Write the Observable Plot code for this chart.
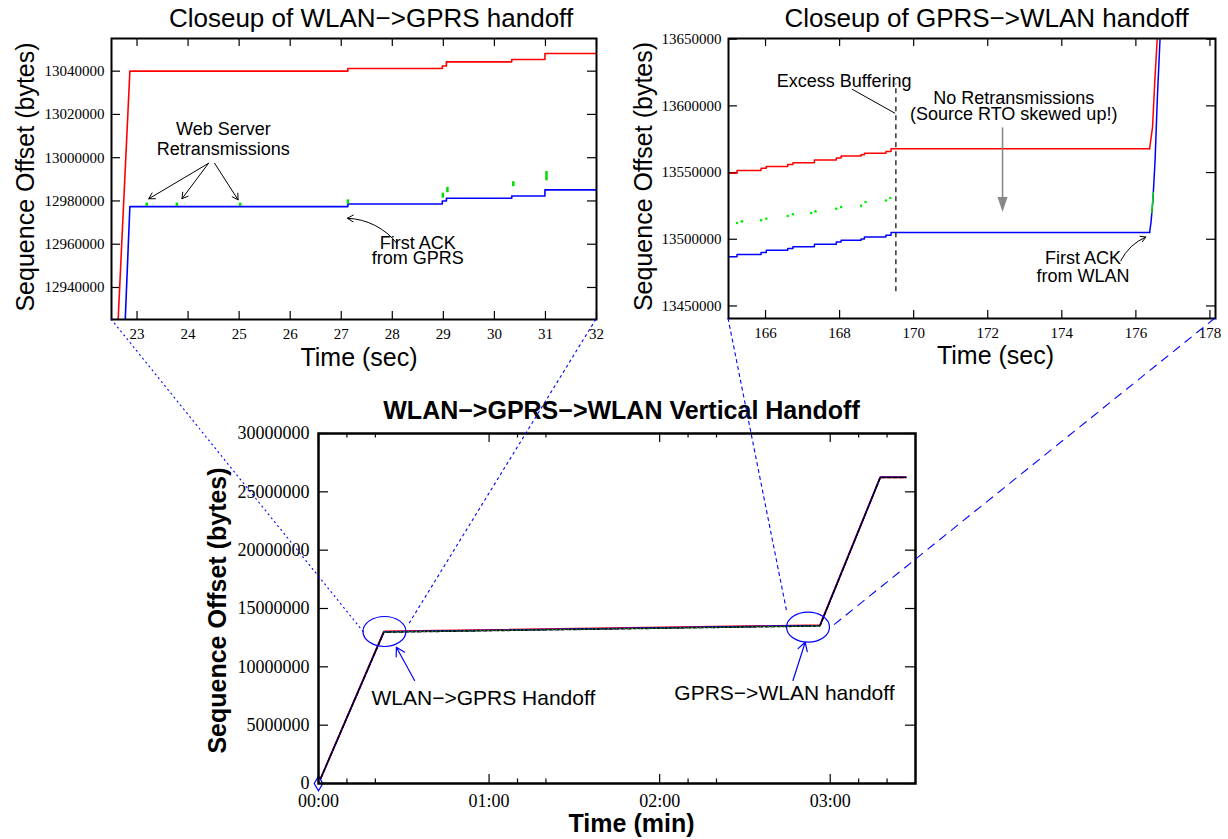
<!DOCTYPE html>
<html><head><meta charset="utf-8">
<script src="https://cdn.jsdelivr.net/npm/d3@7"></script>
<script src="https://cdn.jsdelivr.net/npm/@observablehq/plot@0.6"></script>
<style>
html,body{margin:0;padding:0;background:#fff}
#fig{position:relative;width:1228px;height:839px;overflow:hidden;background:#fff}
#fig > svg{position:absolute}
</style></head>
<body><div id="fig"></div>
<script>
// ================= DATA =================
// --- Closeup of WLAN->GPRS handoff (time in sec, sequence offset in bytes)
const c1XDomain = [22.5, 32];
const c1YDomain = [12925200, 13055100];
const c1XTicks = [23, 24, 25, 26, 27, 28, 29, 30, 31, 32];
const c1YTicks = [12940000, 12960000, 12980000, 13000000, 13020000, 13040000];
const c1RedT   = [22.62, 22.86, 27.13, 27.13, 28.98, 28.98, 29.06, 29.06, 30.34, 30.34, 30.99, 30.99, 32];
const c1RedSeq = [12920000, 13040000, 13040000, 13041200, 13041200, 13042400, 13042400, 13044300, 13044300, 13045400, 13045400, 13048200, 13048200];
const c1BlueT   = [22.76, 22.86, 27.13, 27.13, 28.98, 28.98, 29.06, 29.06, 30.34, 30.34, 30.99, 30.99, 32];
const c1BlueSeq = [12920000, 12977400, 12977400, 12978600, 12978600, 12980000, 12980000, 12981250, 12981250, 12982300, 12982300, 12985100, 12985100];
const c1RetxT  = [23.19, 23.78, 25.02, 27.13, 28.99, 29.08, 30.37, 31.02];
const c1RetxLo = [12977400, 12977400, 12977400, 12978500, 12981300, 12983800, 12986600, 12989300];
const c1RetxHi = [12979000, 12979000, 12979000, 12980500, 12983600, 12986300, 12988900, 12993600];
const c1Notes = ["Web Server\nRetransmissions", "First ACK\nfrom GPRS"];
const c1NoteT = [24.69, 28.5];
const c1NoteSeq = [13008800, 12956500];
const c1ArrowT1 = [24.40, 24.40, 24.52, 28.09];
const c1ArrowS1 = [12997400, 12997400, 12997400, 12960400];
const c1ArrowT2 = [23.23, 23.88, 24.98, 27.12];
const c1ArrowS2 = [12981000, 12981000, 12980500, 12972000];

// --- Closeup of GPRS->WLAN handoff
const c2XDomain = [165, 178.15];
const c2YDomain = [13440600, 13650500];
const c2XTicks = [166, 168, 170, 172, 174, 176, 178];
const c2YTicks = [13450000, 13500000, 13550000, 13600000, 13650000];
const c2StepT   = [165, 165.23, 165.88, 166.02, 166.60, 166.74, 167.32, 167.91, 168.04, 168.58, 168.67, 169.25, 169.39, 176.37];
const c2RedStep = [13549500, 13551500, 13553300, 13554600, 13556000, 13557300, 13559500, 13561000, 13562500, 13563300, 13564500, 13565800, 13567800, 13567800];
const c2BlueStep = [13486800, 13488500, 13490000, 13491800, 13493000, 13494300, 13496300, 13498000, 13499300, 13500200, 13501700, 13503000, 13505000, 13505000];
const c2RedRiseT = [176.37, 176.45, 176.51, 176.58];
const c2RedRise  = [13567800, 13584000, 13618000, 13652000];
const c2BlueRiseT = [176.37, 176.41, 176.46, 176.52, 176.58, 176.66];
const c2BlueRise  = [13505000, 13513000, 13529000, 13560000, 13606000, 13655000];
const c2GreenRiseT = [176.43, 176.47];
const c2GreenRise  = [13520000, 13535000];
const c2DotT   = [165.23, 165.36, 165.88, 166.02, 166.60, 166.74, 167.23, 167.35, 167.91, 168.04, 168.58, 168.70, 169.25, 169.37];
const c2DotSeq = [13512200, 13513400, 13514200, 13515400, 13517400, 13518700, 13519700, 13520900, 13522900, 13524100, 13525000, 13527900, 13529100, 13530900];
const c2BufferT = [169.52];
const c2BufferLo = [13460600];
const c2BufferHi = [13616400];
const c2Notes = ["Excess Buffering", "No Retransmissions\n(Source RTO skewed up!)", "First ACK\nfrom WLAN"];
const c2NoteT = [168.12, 172.70, 174.57];
const c2NoteSeq = [13618800, 13599400, 13478900];
const c2LeaderT1 = [168.33], c2LeaderS1 = [13612600], c2LeaderT2 = [169.50], c2LeaderS2 = [13594400];
const c2GrayT = [172.40], c2GrayTop = [13583500], c2GrayBottom = [13529000], c2GrayHead = [13526000];
const c2AckT1 = [175.59], c2AckS1 = [13483800], c2AckT2 = [176.27], c2AckS2 = [13501700];

// --- Main: WLAN->GPRS->WLAN Vertical Handoff (time in sec, shown as mm:ss)
const mXDomain = [0, 210];
const mYDomain = [0, 30000000];
const mXMajor = [0, 60, 120, 180];
const mXMinor = [10, 20, 70, 80, 130, 140, 190, 200];
const mYTicks = [0, 5000000, 10000000, 15000000, 20000000, 25000000, 30000000];
const mT = [0, 23, 176.4, 197.6, 206.6];
const mRed   = [0, 13040000, 13568000, 26250000, 26250000];
const mBlue  = [0, 13000000, 13540000, 26240000, 26240000];
const mBlack = [0, 12970000, 13505000, 26220000, 26220000];
const mGreenT = [23, 176.4];
const mGreen  = [12985000, 13515000];
const mOriginT = [0], mOriginSeq = [0];
const mCircleT = [23.2, 172.2];
const mCircleSeq = [13030000, 13400000];
const mArrowT1 = [33.8, 166.9], mArrowS1 = [8830000, 8830000];
const mArrowT2 = [27.4, 171.2], mArrowS2 = [11680000, 12110000];
const mNotes = ["WLAN\u2212>GPRS Handoff", "GPRS\u2212>WLAN handoff"];
const mNoteT = [58.0, 163.9], mNoteSeq = [7290000, 7710000];
// connectors: closeup frame bottom corners -> points by the circles
const connFrom = ["c1", "c1", "c2", "c2"];
const connFromEnd = [0, 1, 0, 1];
const connToT = [16.0, 31.66, 164.97, 180.1];
const connToSeq = [12940000, 13540000, 14570000, 13290000];

// ================= RENDER =================
const W = 1228, H = 839;
const fig = document.getElementById("fig");
const SANS = "Liberation Sans, Arial, Helvetica, sans-serif";
const SERIF = "Liberation Serif, Times New Roman, serif";

const L1 = {left: 0, top: 0, width: 610, height: 380, mL: 111, mR: 14, mT: 38, mB: 61};
const L2 = {left: 610, top: 0, width: 618, height: 380, mL: 118, mR: 13, mT: 38, mB: 62};
const L3 = {left: 190, top: 390, width: 760, height: 449, mL: 128, mR: 35, mT: 43, mB: 56};

function inward(xT, yT, xLen, yLen, L, sw = 1.2) {
  const fw = L.width - L.mL - L.mR, fh = L.height - L.mT - L.mB;
  const out = [];
  if (xT) out.push(
    Plot.tickX(xT, {x: d => d, insetTop: fh - xLen, stroke: "black", strokeWidth: sw}),
    Plot.tickX(xT, {x: d => d, insetBottom: fh - xLen, stroke: "black", strokeWidth: sw}));
  if (yT) out.push(
    Plot.tickY(yT, {y: d => d, insetRight: fw - yLen, stroke: "black", strokeWidth: sw}),
    Plot.tickY(yT, {y: d => d, insetLeft: fw - yLen, stroke: "black", strokeWidth: sw}));
  return out;
}
function base(L) {
  return {width: L.width, height: L.height, marginLeft: L.mL, marginRight: L.mR, marginTop: L.mT, marginBottom: L.mB,
    style: {fontFamily: SERIF, fontSize: "15px", background: "transparent", overflow: "visible", color: "black"}};
}
function label(str, opts) {
  return Plot.text([str], {text: d => d, textAnchor: "middle", lineAnchor: "middle", fontFamily: SANS, fontSize: 25, ...opts});
}
// one text mark per note so each note keeps its own line spacing
function notes(texts, xs, ys, size, spacings, color = "black") {
  return texts.map((t, i) => Plot.text([t], {x: [xs[i]], y: [ys[i]], text: d => d, fontFamily: SANS, fontSize: size,
    lineHeight: spacings[i], fill: color}));
}
const ellipse = {draw(ctx, size) {
  const r = Math.sqrt(size / Math.PI), rx = r * 1.43, ry = r, k = 0.5523;
  ctx.moveTo(rx, 0);
  ctx.bezierCurveTo(rx, ry * k, rx * k, ry, 0, ry);
  ctx.bezierCurveTo(-rx * k, ry, -rx, ry * k, -rx, 0);
  ctx.bezierCurveTo(-rx, -ry * k, -rx * k, -ry, 0, -ry);
  ctx.bezierCurveTo(rx * k, -ry, rx, -ry * k, rx, 0);
  ctx.closePath();
}};
const downHead = {draw(ctx, size) {
  const r = Math.sqrt(size / Math.PI);
  ctx.moveTo(0, r); ctx.lineTo(-0.67 * r, -r); ctx.lineTo(0.67 * r, -r); ctx.closePath();
}};
const idx = a => a.map((_, i) => i);

// ---- Plot 1
const p1 = Plot.plot({...base(L1),
  x: {domain: c1XDomain}, y: {domain: c1YDomain},
  marks: [
    ...inward(c1XTicks, c1YTicks, 8, 9, L1),
    Plot.axisX(c1XTicks, {anchor: "bottom", tickSize: 0, tickPadding: 9, tickFormat: d => String(d), label: null, fontSize: 15}),
    Plot.axisY(c1YTicks, {anchor: "left", tickSize: 0, tickPadding: 7, tickFormat: d => String(d), label: null, fontSize: 15}),
    Plot.line(c1RedSeq, {x: c1RedT, y: c1RedSeq, stroke: "#ff0000", strokeWidth: 1.6, clip: true}),
    Plot.line(c1BlueSeq, {x: c1BlueT, y: c1BlueSeq, stroke: "#0000ff", strokeWidth: 1.6, clip: true}),
    Plot.ruleX(c1RetxT, {x: c1RetxT, y1: c1RetxLo, y2: c1RetxHi, stroke: "#00dd00", strokeWidth: 2.5}),
    Plot.arrow(idx(c1ArrowT1).slice(0, 3), {x1: i => c1ArrowT1[i], y1: i => c1ArrowS1[i], x2: i => c1ArrowT2[i], y2: i => c1ArrowS2[i], stroke: "black", strokeWidth: 1, headLength: 10}),
    Plot.arrow([3], {x1: i => c1ArrowT1[i], y1: i => c1ArrowS1[i], x2: i => c1ArrowT2[i], y2: i => c1ArrowS2[i], bend: -25, stroke: "black", strokeWidth: 1, headLength: 10}),
    ...notes(c1Notes, c1NoteT, c1NoteSeq, 18, [1.12, 0.86]),
    Plot.frame({stroke: "black", strokeWidth: 2}),
    label("Closeup of WLAN\u2212>GPRS handoff", {frameAnchor: "top", dx: 17, dy: -20, fontSize: 26}),
    label("Time (sec)", {frameAnchor: "bottom", dx: 5, dy: 38}),
    label("Sequence Offset (bytes)", {frameAnchor: "left", dx: -86, dy: -2, rotate: -90})
  ]
});

// ---- Plot 2
const p2 = Plot.plot({...base(L2),
  x: {domain: c2XDomain}, y: {domain: c2YDomain},
  marks: [
    ...inward(c2XTicks, c2YTicks, 8, 9, L2),
    Plot.axisX(c2XTicks, {anchor: "bottom", tickSize: 0, tickPadding: 9, tickFormat: d => String(d), label: null, fontSize: 15}),
    Plot.axisY(c2YTicks, {anchor: "left", tickSize: 0, tickPadding: 7, tickFormat: d => String(d), label: null, fontSize: 15}),
    Plot.line(c2RedStep, {x: c2StepT, y: c2RedStep, curve: "step-after", stroke: "#ff0000", strokeWidth: 1.5}),
    Plot.line(c2RedRise, {x: c2RedRiseT, y: c2RedRise, stroke: "#ff0000", strokeWidth: 1.5, clip: true}),
    Plot.line(c2BlueStep, {x: c2StepT, y: c2BlueStep, curve: "step-after", stroke: "#0000ff", strokeWidth: 1.5}),
    Plot.line(c2BlueRise, {x: c2BlueRiseT, y: c2BlueRise, stroke: "#0000ff", strokeWidth: 1.5, clip: true}),
    Plot.line(c2GreenRise, {x: c2GreenRiseT, y: c2GreenRise, stroke: "#00dd00", strokeWidth: 1.5}),
    Plot.dot(c2DotSeq, {x: c2DotT, y: c2DotSeq, r: 1.3, fill: "#00ee00", stroke: "none"}),
    Plot.ruleX(c2BufferT, {x: c2BufferT, y1: c2BufferLo, y2: c2BufferHi, stroke: "black", strokeWidth: 1.2, strokeDasharray: "5,4"}),
    Plot.link(c2LeaderT1, {x1: c2LeaderT1, y1: c2LeaderS1, x2: c2LeaderT2, y2: c2LeaderS2, stroke: "black", strokeWidth: 1}),
    Plot.ruleX(c2GrayT, {x: c2GrayT, y1: c2GrayTop, y2: c2GrayBottom, stroke: "#888888", strokeWidth: 1.6}),
    Plot.dot(c2GrayT, {x: c2GrayT, y: c2GrayHead, symbol: downHead, r: 7.5, fill: "#888888", stroke: "none"}),
    Plot.arrow(c2AckT1, {x1: c2AckT1, y1: c2AckS1, x2: c2AckT2, y2: c2AckS2, bend: 20, stroke: "black", strokeWidth: 1, headLength: 9}),
    ...notes(c2Notes, c2NoteT, c2NoteSeq, 18, [1, 0.88, 1.02]),
    Plot.frame({stroke: "black", strokeWidth: 2}),
    label("Closeup of GPRS\u2212>WLAN handoff", {frameAnchor: "top", dx: 14.5, dy: -20, fontSize: 26}),
    label("Time (sec)", {frameAnchor: "bottom", dx: 23.5, dy: 37}),
    label("Sequence Offset (bytes)", {frameAnchor: "left", dx: -85, dy: -2, rotate: -90})
  ]
});

// ---- Plot 3
const p3 = Plot.plot({...base(L3),
  x: {domain: mXDomain}, y: {domain: mYDomain},
  marks: [
    ...inward(mXMajor, mYTicks, 9, 10, L3),
    ...inward(mXMinor, null, 4.5, 0, L3),
    Plot.axisX(mXMajor, {anchor: "bottom", tickSize: 0, tickPadding: 10.5, tickFormat: d => "0" + (d / 60) + ":00", label: null, fontSize: 18}),
    Plot.axisY(mYTicks, {anchor: "left", tickSize: 0, tickPadding: 9, tickFormat: d => String(d), label: null, fontSize: 18}),
    Plot.line(mRed, {x: mT, y: mRed, stroke: "#ff0000", strokeWidth: 1.8}),
    Plot.line(mBlue, {x: mT, y: mBlue, stroke: "#0000ff", strokeWidth: 1.5}),
    Plot.line(mBlack, {x: mT, y: mBlack, stroke: "black", strokeWidth: 1.5, strokeDasharray: "4,2"}),
    Plot.line(mGreen, {x: mGreenT, y: mGreen, stroke: "#00bb00", strokeWidth: 1, strokeDasharray: "1,3"}),
    Plot.dot(mOriginT, {x: mOriginT, y: mOriginSeq, symbol: "diamond", r: 4.5, stroke: "#0000ff", fill: "white", strokeWidth: 1.2}),
    Plot.dot(mCircleT, {x: mCircleT, y: mCircleSeq, symbol: ellipse, r: 15, stroke: "#0000ff", fill: "none", strokeWidth: 1.2}),
    Plot.arrow(mArrowT1, {x1: mArrowT1, y1: mArrowS1, x2: mArrowT2, y2: mArrowS2, stroke: "#0000ff", strokeWidth: 1.2, headLength: 12}),
    Plot.text(mNotes, {x: mNoteT, y: mNoteSeq, text: d => d, fontFamily: SANS, fontSize: 21}),
    Plot.frame({stroke: "black", strokeWidth: 2.5}),
    label("WLAN\u2212>GPRS\u2212>WLAN Vertical Handoff", {frameAnchor: "top", dx: 4.5, dy: -23, fontWeight: "bold"}),
    label("Time (min)", {frameAnchor: "bottom", dx: 14.5, dy: 40, fontWeight: "bold"}),
    label("Sequence Offset (bytes)", {frameAnchor: "left", dx: -101, dy: 2, rotate: -90, fontWeight: "bold"})
  ]
});

const placed = [[p1, L1], [p2, L2], [p3, L3]];
for (const [p, L] of placed) {
  p.style.position = "absolute";
  p.style.left = L.left + "px";
  p.style.top = L.top + "px";
  fig.appendChild(p);
}

// ---- connectors (positions via the plots' own scales)
const ov = d3.select(fig).append("svg")
  .attr("width", W).attr("height", H)
  .style("left", "0px").style("top", "0px").style("pointer-events", "none");
const src = {c1: [p1, L1, c1XDomain, c1YDomain], c2: [p2, L2, c2XDomain, c2YDomain]};
const dashes = ["2,3", "3,3", "4,3", "9,6"];
connFrom.forEach((k, i) => {
  const [p, L, xd, yd] = src[k];
  const xa = L.left + p.scale("x").apply(xd[connFromEnd[i]]);
  const ya = L.top + p.scale("y").apply(yd[0]);
  const xb = L3.left + p3.scale("x").apply(connToT[i]);
  const yb = L3.top + p3.scale("y").apply(connToSeq[i]);
  ov.append("line").attr("x1", xa).attr("y1", ya).attr("x2", xb).attr("y2", yb)
    .attr("stroke", "#0000ff").attr("stroke-width", 1.1).attr("stroke-dasharray", dashes[i]);
});
</script>
</body></html>
